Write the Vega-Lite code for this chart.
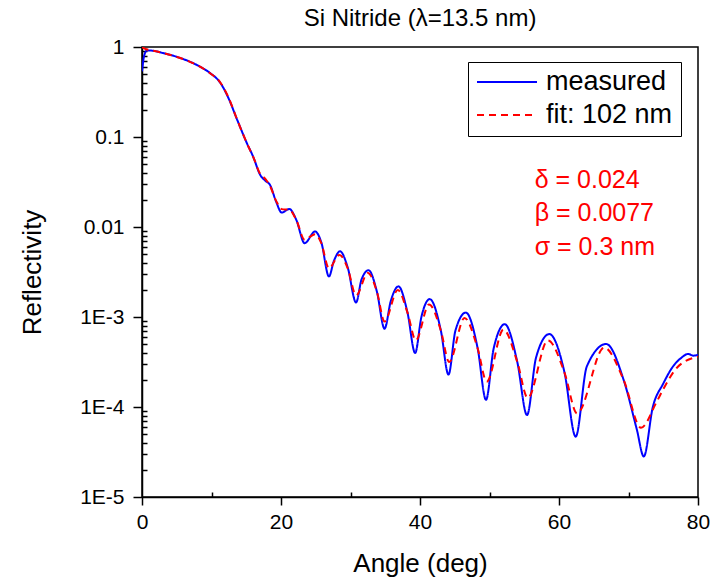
{
  "$schema": "https://vega.github.io/schema/vega-lite/v6.json",
  "width": 556,
  "height": 450,
  "autosize": "none",
  "padding": {"left": 142, "top": 47, "right": 26, "bottom": 86},
  "title": {"text": "Si Nitride (λ=13.5 nm)", "fontSize": 24, "fontWeight": "normal", "font": "Liberation Sans", "anchor": "middle", "offset": 5, "color": "black"},
  "config": {
    "font": "Liberation Sans",
    "view": {"stroke": "black", "strokeWidth": 1.5},
    "axis": {"domainColor": "black", "domainWidth": 1.5, "tickColor": "black", "tickWidth": 1.5, "labelColor": "black", "titleColor": "black", "grid": false, "labelFont": "Liberation Sans", "titleFont": "Liberation Sans", "titleFontWeight": "normal"}
  },
  "datasets": {
    "curves": [
      {"a": 0, "r": 0.537, "s": "measured"},
      {"a": 0.3, "r": 0.794, "s": "measured"},
      {"a": 0.7, "r": 0.912, "s": "measured"},
      {"a": 1.2, "r": 0.912, "s": "measured"},
      {"a": 3.0, "r": 0.857, "s": "measured"},
      {"a": 5.5, "r": 0.755, "s": "measured"},
      {"a": 7.9, "r": 0.631, "s": "measured"},
      {"a": 9.8, "r": 0.513, "s": "measured"},
      {"a": 11.2, "r": 0.407, "s": "measured"},
      {"a": 12.4, "r": 0.275, "s": "measured"},
      {"a": 13.7, "r": 0.155, "s": "measured"},
      {"a": 15.1, "r": 0.0851, "s": "measured"},
      {"a": 16.0, "r": 0.0603, "s": "measured"},
      {"a": 17.0, "r": 0.038, "s": "measured"},
      {"a": 17.8, "r": 0.0324, "s": "measured"},
      {"a": 18.4, "r": 0.0295, "s": "measured"},
      {"a": 19.3, "r": 0.0191, "s": "measured"},
      {"a": 20.1, "r": 0.01445, "s": "measured"},
      {"a": 21.2, "r": 0.01585, "s": "measured"},
      {"a": 22.2, "r": 0.01202, "s": "measured"},
      {"a": 23.4, "r": 0.00661, "s": "measured"},
      {"a": 24.9, "r": 0.00891, "s": "measured"},
      {"a": 25.8, "r": 0.00676, "s": "measured"},
      {"a": 26.9, "r": 0.00282, "s": "measured"},
      {"a": 27.6, "r": 0.00417, "s": "measured"},
      {"a": 28.5, "r": 0.00537, "s": "measured"},
      {"a": 29.6, "r": 0.00355, "s": "measured"},
      {"a": 30.8, "r": 0.00145, "s": "measured"},
      {"a": 31.6, "r": 0.00263, "s": "measured"},
      {"a": 32.6, "r": 0.00331, "s": "measured"},
      {"a": 33.8, "r": 0.00191, "s": "measured"},
      {"a": 34.9, "r": 0.000741, "s": "measured"},
      {"a": 35.8, "r": 0.00151, "s": "measured"},
      {"a": 36.9, "r": 0.00219, "s": "measured"},
      {"a": 38.2, "r": 0.00112, "s": "measured"},
      {"a": 39.3, "r": 0.000398, "s": "measured"},
      {"a": 40.2, "r": 0.001, "s": "measured"},
      {"a": 41.4, "r": 0.00158, "s": "measured"},
      {"a": 43.0, "r": 0.000708, "s": "measured"},
      {"a": 44.1, "r": 0.000229, "s": "measured"},
      {"a": 45.1, "r": 0.000708, "s": "measured"},
      {"a": 46.6, "r": 0.00112, "s": "measured"},
      {"a": 48.3, "r": 0.000447, "s": "measured"},
      {"a": 49.5, "r": 0.00012, "s": "measured"},
      {"a": 50.6, "r": 0.000447, "s": "measured"},
      {"a": 52.2, "r": 0.000832, "s": "measured"},
      {"a": 54.0, "r": 0.000316, "s": "measured"},
      {"a": 55.4, "r": 0.0000813, "s": "measured"},
      {"a": 56.7, "r": 0.000355, "s": "measured"},
      {"a": 58.6, "r": 0.000646, "s": "measured"},
      {"a": 60.8, "r": 0.00024, "s": "measured"},
      {"a": 62.4, "r": 0.0000468, "s": "measured"},
      {"a": 64.0, "r": 0.000282, "s": "measured"},
      {"a": 66.8, "r": 0.000501, "s": "measured"},
      {"a": 69.3, "r": 0.0002, "s": "measured"},
      {"a": 71.2, "r": 0.0000562, "s": "measured"},
      {"a": 72.2, "r": 0.0000282, "s": "measured"},
      {"a": 73.5, "r": 0.0001, "s": "measured"},
      {"a": 75.0, "r": 0.000182, "s": "measured"},
      {"a": 76.4, "r": 0.000282, "s": "measured"},
      {"a": 77.5, "r": 0.000347, "s": "measured"},
      {"a": 78.6, "r": 0.000389, "s": "measured"},
      {"a": 79.3, "r": 0.000372, "s": "measured"},
      {"a": 80, "r": 0.00038, "s": "measured"},
      {"a": 0, "r": 1.0, "s": "fit: 102 nm"},
      {"a": 0.5, "r": 0.95, "s": "fit: 102 nm"},
      {"a": 1.2, "r": 0.925, "s": "fit: 102 nm"},
      {"a": 3.0, "r": 0.86, "s": "fit: 102 nm"},
      {"a": 5.5, "r": 0.755, "s": "fit: 102 nm"},
      {"a": 7.9, "r": 0.63, "s": "fit: 102 nm"},
      {"a": 9.8, "r": 0.51, "s": "fit: 102 nm"},
      {"a": 11.2, "r": 0.41, "s": "fit: 102 nm"},
      {"a": 12.4, "r": 0.28, "s": "fit: 102 nm"},
      {"a": 13.7, "r": 0.155, "s": "fit: 102 nm"},
      {"a": 15.1, "r": 0.085, "s": "fit: 102 nm"},
      {"a": 16.0, "r": 0.06, "s": "fit: 102 nm"},
      {"a": 17.0, "r": 0.039, "s": "fit: 102 nm"},
      {"a": 17.8, "r": 0.0339, "s": "fit: 102 nm"},
      {"a": 18.4, "r": 0.0288, "s": "fit: 102 nm"},
      {"a": 19.3, "r": 0.0195, "s": "fit: 102 nm"},
      {"a": 20.1, "r": 0.0158, "s": "fit: 102 nm"},
      {"a": 21.2, "r": 0.0155, "s": "fit: 102 nm"},
      {"a": 22.2, "r": 0.012, "s": "fit: 102 nm"},
      {"a": 23.4, "r": 0.00724, "s": "fit: 102 nm"},
      {"a": 24.9, "r": 0.00832, "s": "fit: 102 nm"},
      {"a": 25.8, "r": 0.00661, "s": "fit: 102 nm"},
      {"a": 26.9, "r": 0.00347, "s": "fit: 102 nm"},
      {"a": 28.4, "r": 0.0049, "s": "fit: 102 nm"},
      {"a": 29.6, "r": 0.00347, "s": "fit: 102 nm"},
      {"a": 30.8, "r": 0.00174, "s": "fit: 102 nm"},
      {"a": 32.5, "r": 0.00309, "s": "fit: 102 nm"},
      {"a": 33.8, "r": 0.00191, "s": "fit: 102 nm"},
      {"a": 34.9, "r": 0.000891, "s": "fit: 102 nm"},
      {"a": 36.8, "r": 0.002, "s": "fit: 102 nm"},
      {"a": 38.2, "r": 0.00112, "s": "fit: 102 nm"},
      {"a": 39.4, "r": 0.00055, "s": "fit: 102 nm"},
      {"a": 41.3, "r": 0.00138, "s": "fit: 102 nm"},
      {"a": 43.0, "r": 0.000708, "s": "fit: 102 nm"},
      {"a": 44.2, "r": 0.000316, "s": "fit: 102 nm"},
      {"a": 46.4, "r": 0.000977, "s": "fit: 102 nm"},
      {"a": 48.3, "r": 0.000447, "s": "fit: 102 nm"},
      {"a": 49.6, "r": 0.000191, "s": "fit: 102 nm"},
      {"a": 52.0, "r": 0.000724, "s": "fit: 102 nm"},
      {"a": 54.0, "r": 0.000316, "s": "fit: 102 nm"},
      {"a": 55.5, "r": 0.000126, "s": "fit: 102 nm"},
      {"a": 58.4, "r": 0.00055, "s": "fit: 102 nm"},
      {"a": 60.8, "r": 0.00024, "s": "fit: 102 nm"},
      {"a": 62.6, "r": 0.0000851, "s": "fit: 102 nm"},
      {"a": 66.5, "r": 0.000457, "s": "fit: 102 nm"},
      {"a": 69.3, "r": 0.0002, "s": "fit: 102 nm"},
      {"a": 71.8, "r": 0.0000589, "s": "fit: 102 nm"},
      {"a": 74.0, "r": 0.000112, "s": "fit: 102 nm"},
      {"a": 75.0, "r": 0.000158, "s": "fit: 102 nm"},
      {"a": 77.0, "r": 0.000275, "s": "fit: 102 nm"},
      {"a": 80, "r": 0.000363, "s": "fit: 102 nm"}
    ],
    "notes": [
      {"a": 56.5, "r": 0.0333, "t": "δ = 0.024"},
      {"a": 56.5, "r": 0.0143, "t": "β = 0.0077"},
      {"a": 56.5, "r": 0.00602, "t": "σ = 0.3 nm"}
    ]
  },
  "layer": [
    {
      "data": {"name": "curves"},
      "transform": [{"filter": "datum.s == 'measured'"}],
      "mark": {"type": "line", "strokeWidth": 2, "interpolate": "monotone", "clip": true},
      "encoding": {
        "x": {"field": "a", "type": "quantitative", "scale": {"domain": [0, 80], "nice": false},
          "axis": {"values": [0, 20, 40, 60, 80], "tickSize": 8, "labelFontSize": 21, "labelPadding": 6, "title": "Angle (deg)", "titleFontSize": 26, "titlePadding": 18, "labelFlush": false}},
        "y": {"field": "r", "type": "quantitative", "scale": {"type": "log", "domain": [0.00001, 1], "nice": false},
          "axis": {"values": [1, 0.1, 0.01, 0.001, 0.0001, 0.00001], "labelExpr": "datum.value >= 0.01 ? toString(datum.value) : '1E' + round(log(datum.value)/LN10)", "tickSize": 9, "labelFontSize": 21, "labelPadding": 9, "title": "Reflectivity", "titleFontSize": 26, "titlePadding": 34, "labelFlush": false}},
        "color": {"field": "s", "type": "nominal", "scale": {"domain": ["measured", "fit: 102 nm"], "range": ["#0000ff", "#ff0000"]},
          "legend": {"title": null, "orient": "none", "legendX": 326, "legendY": 15, "strokeColor": "black", "fillColor": "white", "padding": 8, "symbolType": "stroke", "symbolSize": 3600, "clipHeight": 24, "symbolStrokeWidth": 2, "labelFontSize": 27, "labelFont": "Liberation Sans", "labelColor": "black", "labelOffset": 8, "rowPadding": 6}},
        "strokeDash": {"field": "s", "type": "nominal", "scale": {"domain": ["measured", "fit: 102 nm"], "range": [[1, 0], [7, 5]]},
          "legend": {"title": null, "orient": "none", "legendX": 326, "legendY": 15, "strokeColor": "black", "fillColor": "white", "padding": 8, "symbolType": "stroke", "symbolSize": 3600, "clipHeight": 24, "symbolStrokeWidth": 2, "labelFontSize": 27, "labelFont": "Liberation Sans", "labelColor": "black", "labelOffset": 8, "rowPadding": 6}}
      }
    },
    {
      "data": {"name": "curves"},
      "transform": [{"filter": "datum.s != 'measured'"}],
      "mark": {"type": "line", "strokeWidth": 2, "interpolate": "monotone", "clip": true},
      "encoding": {
        "x": {"field": "a", "type": "quantitative", "axis": null},
        "y": {"field": "r", "type": "quantitative", "axis": null},
        "color": {"field": "s", "type": "nominal"},
        "strokeDash": {"field": "s", "type": "nominal"}
      }
    },
    {
      "data": {"name": "notes"},
      "mark": {"type": "text", "align": "left", "baseline": "middle", "fontSize": 25, "color": "#ff0000", "font": "Liberation Sans"},
      "encoding": {
        "x": {"field": "a", "type": "quantitative",
          "axis": {"orient": "bottom", "values": [10, 30, 50, 70], "tickSize": -5, "labels": false, "domain": false, "title": null}},
        "y": {"field": "r", "type": "quantitative",
          "axis": {"orient": "left", "values": [0.00002, 0.00003, 0.00004, 0.00005, 0.00006, 0.00007, 0.00008, 0.00009, 0.0002, 0.0003, 0.0004, 0.0005, 0.0006, 0.0007, 0.0008, 0.0009, 0.002, 0.003, 0.004, 0.005, 0.006, 0.007, 0.008, 0.009, 0.02, 0.03, 0.04, 0.05, 0.06, 0.07, 0.08, 0.09, 0.2, 0.3, 0.4, 0.5, 0.6, 0.7, 0.8, 0.9], "tickSize": -5, "labels": false, "domain": false, "title": null}},
        "text": {"field": "t"}
      }
    }
  ],
  "resolve": {"axis": {"x": "independent", "y": "independent"}}
}
